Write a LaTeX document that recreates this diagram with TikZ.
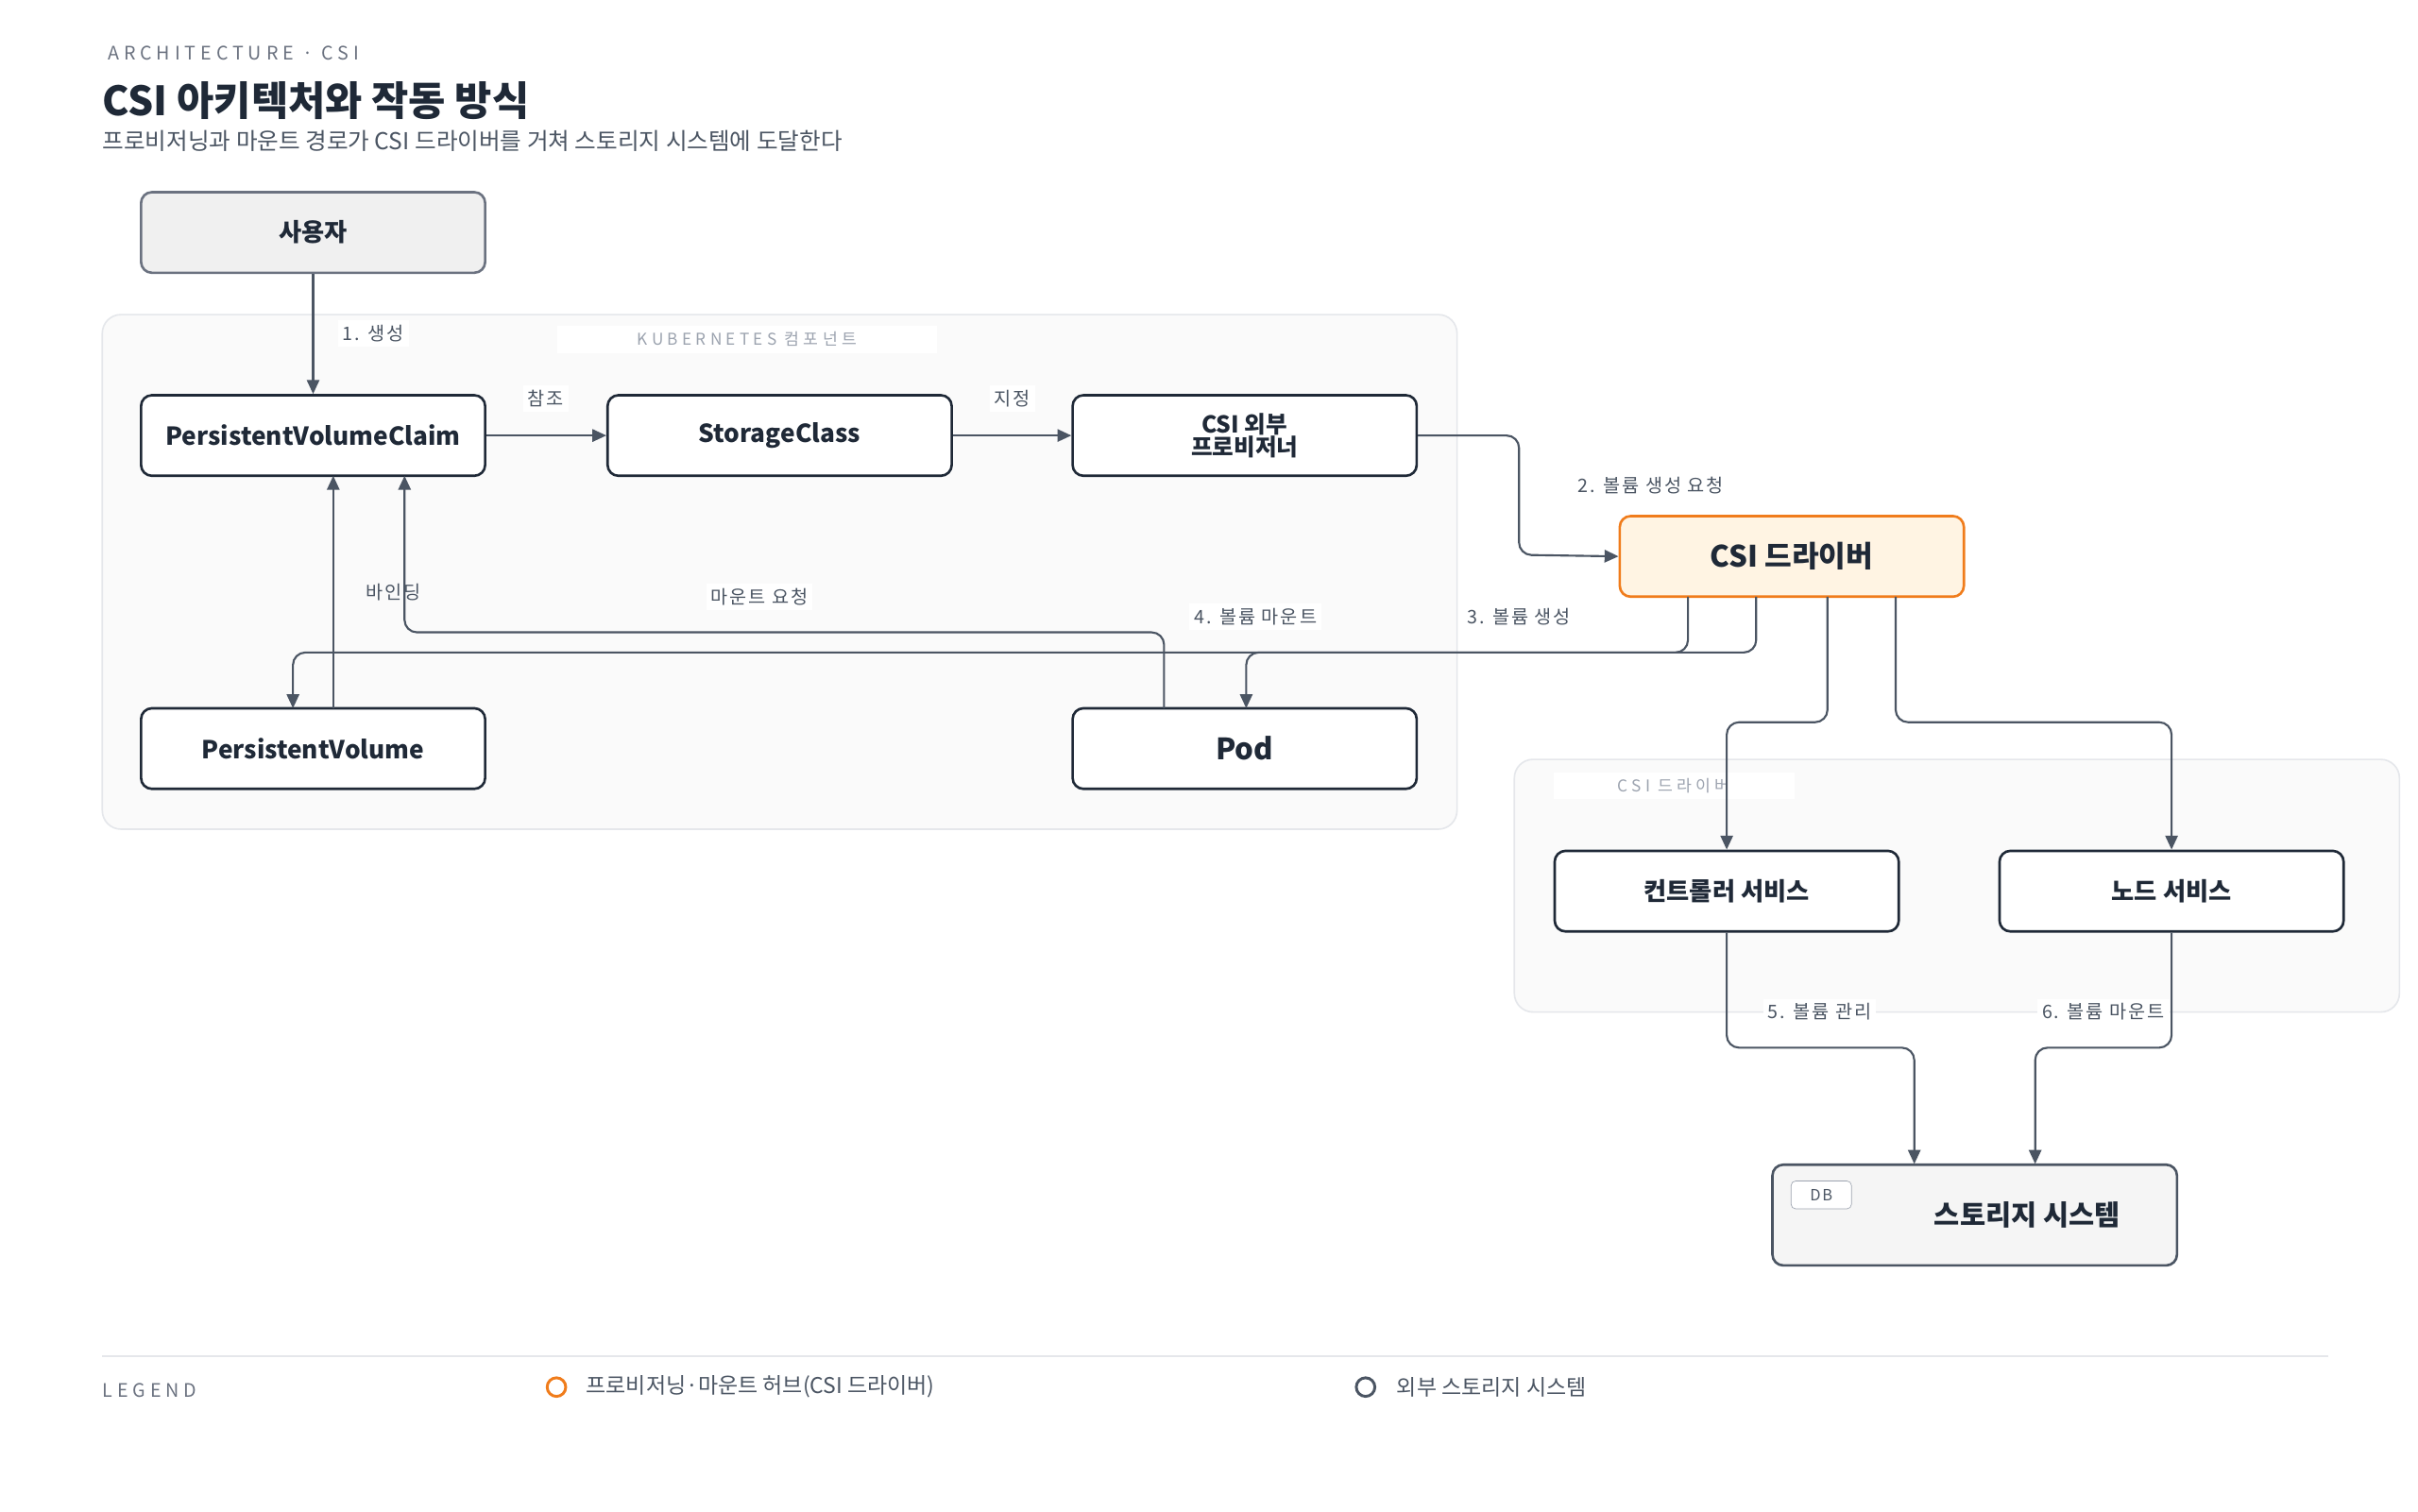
\documentclass[tikz,border=0pt]{standalone}
\usepackage{fontspec}
\setmainfont{Noto Sans CJK KR}
\newfontfamily\kr{Noto Sans CJK KR}
\newfontfamily\krsp[LetterSpace=10]{Noto Sans CJK KR}
\newfontfamily\krwide[LetterSpace=25]{Noto Sans CJK KR}
\usetikzlibrary{arrows.meta}
\definecolor{ink}{HTML}{1F2937}
\definecolor{edge}{HTML}{4B5563}
\definecolor{muted}{HTML}{6B7280}
\definecolor{faint}{HTML}{9CA3AF}
\definecolor{grpfill}{HTML}{FAFAFA}
\definecolor{grpline}{HTML}{E5E7EB}
\definecolor{orng}{HTML}{F07C1B}
\definecolor{orfill}{HTML}{FFF4E3}
\begin{document}
\begin{tikzpicture}[x=1pt,y=-1pt,
  box/.style={draw=ink,line width=1.6pt,rounded corners=7pt,fill=white,minimum width=222pt,minimum height=52pt,font=\kr\fontsize{16}{18}\selectfont\bfseries,text=ink,align=center,inner sep=0pt},
  grp/.style={draw=grpline,fill=grpfill,line width=1pt,rounded corners=12pt},
  arr/.style={draw=edge,line width=1.3pt,rounded corners=8pt,-{Triangle[length=9pt,width=8pt]}},
  lbl/.style={fill=white,text=edge,font=\krsp\fontsize{12}{14}\selectfont,inner sep=3pt},
  glbl/.style={fill=white,text=faint,font=\krwide\fontsize{10.5}{12}\selectfont,inner sep=4pt,minimum width=245pt}]
\useasboundingbox (0,0) rectangle (1560,975);
\fill[white] (0,0) rectangle (1560,975);
% header
\node[anchor=west,text=muted,font=\krwide\fontsize{12}{14}\selectfont] (eyebrow) at (66,34) {ARCHITECTURE · CSI};
\node[anchor=west,text=ink,font=\kr\fontsize{26}{30}\selectfont\bfseries,inner sep=0pt] (title) at (66,65) {CSI 아키텍처와 작동 방식};
\node[anchor=west,text=edge,font=\kr\fontsize{15}{18}\selectfont,inner sep=0pt] (sub) at (66,91) {프로비저닝과 마운트 경로가 CSI 드라이버를 거쳐 스토리지 시스템에 도달한다};
% groups
\draw[grp] (66,203) rectangle (940,535);
\node[glbl] (g1) at (482,219) {KUBERNETES 컴포넌트};
\draw[grp] (977,490) rectangle (1548,653);
\node[glbl,minimum width=155pt] (g2) at (1080,507) {CSI 드라이버};
% nodes
\node[box,fill=gray!12,draw=muted] (user) at (202,150) {사용자};
\node[box] (pvc) at (202,281) {PersistentVolumeClaim};
\node[box] (sc) at (503,281) {StorageClass};
\node[box,font=\kr\fontsize{15}{17}\selectfont\bfseries] (prov) at (803,281) {CSI 외부\\[-2pt]프로비저너};
\node[box,draw=orng,fill=orfill,font=\kr\fontsize{19}{22}\selectfont\bfseries] (drv) at (1156,359) {CSI 드라이버};
\node[box] (pv) at (202,483) {PersistentVolume};
\node[box,font=\kr\fontsize{19}{22}\selectfont\bfseries] (pod) at (803,483) {Pod};
\node[box] (ctl) at (1114,575) {컨트롤러 서비스};
\node[box] (nd) at (1401,575) {노드 서비스};
\node[box,draw=edge,fill=gray!8,minimum width=261pt,minimum height=65pt,font=\kr\fontsize{18}{21}\selectfont\bfseries] (st) at (1274,784) {\hspace*{68pt}스토리지 시스템};
\node[draw=faint,fill=white,rounded corners=3pt,minimum width=39pt,minimum height=18pt,inner sep=0pt,text=edge,font=\krsp\fontsize{10}{12}\selectfont] (db) at (1175,771) {DB};
% edges
\draw[arr] (user.south) -- (pvc.north);
\node[lbl] (l1) at (241,215) {1. 생성};
\draw[arr] (pvc.east) -- (sc.west);
\node[lbl] (l2) at (352,257) {참조};
\draw[arr] (sc.east) -- (prov.west);
\node[lbl] (l3) at (653,257) {지정};
\draw[arr] (prov.east) -- (980,281) -- (980,358) -- (drv.west);
\node[lbl] (l4) at (1065,313) {2. 볼륨 생성 요청};
\draw[arr] (1133,385) -- (1133,421) -- (189,421) -- (189,457);
\node[lbl] (l5) at (980,398) {3. 볼륨 생성};
\draw[arr] (1089,385) -- (1089,421) -- (804,421) -- (804,457);
\node[lbl] (l6) at (810,398) {4. 볼륨 마운트};
\draw[arr] (215,457) -- (215,307);
\node[lbl,fill=grpfill] (l7) at (254,382) {바인딩};
\draw[arr] (751,457) -- (751,408) -- (261,408) -- (261,307);
\node[lbl] (l8) at (490,385) {마운트 요청};
\draw[arr] (1179,385) -- (1179,466) -- (1114,466) -- (ctl.north);
\draw[arr] (1223,385) -- (1223,466) -- (1401,466) -- (nd.north);
\draw[arr] (ctl.south) -- (1114,676) -- (1235,676) -- (1235,751);
\node[lbl] (l9) at (1174,653) {5. 볼륨 관리};
\draw[arr] (nd.south) -- (1401,676) -- (1313,676) -- (1313,751);
\node[lbl] (l10) at (1357,653) {6. 볼륨 마운트};
% legend
\draw[grpline,line width=1pt] (66,875) -- (1502,875);
\node[anchor=west,text=muted,font=\krwide\fontsize{12}{14}\selectfont,inner sep=0pt] (leg) at (66,897) {LEGEND};
\draw[orng,line width=1.8pt] (359,895) circle (6);
\node[anchor=west,text=edge,font=\kr\fontsize{14}{16}\selectfont,inner sep=0pt] (lg1) at (378,895) {프로비저닝·마운트 허브(CSI 드라이버)};
\draw[edge,line width=1.8pt] (881,895) circle (6);
\node[anchor=west,text=edge,font=\kr\fontsize{14}{16}\selectfont,inner sep=0pt] (lg2) at (901,895) {외부 스토리지 시스템};
\end{tikzpicture}
\end{document}
